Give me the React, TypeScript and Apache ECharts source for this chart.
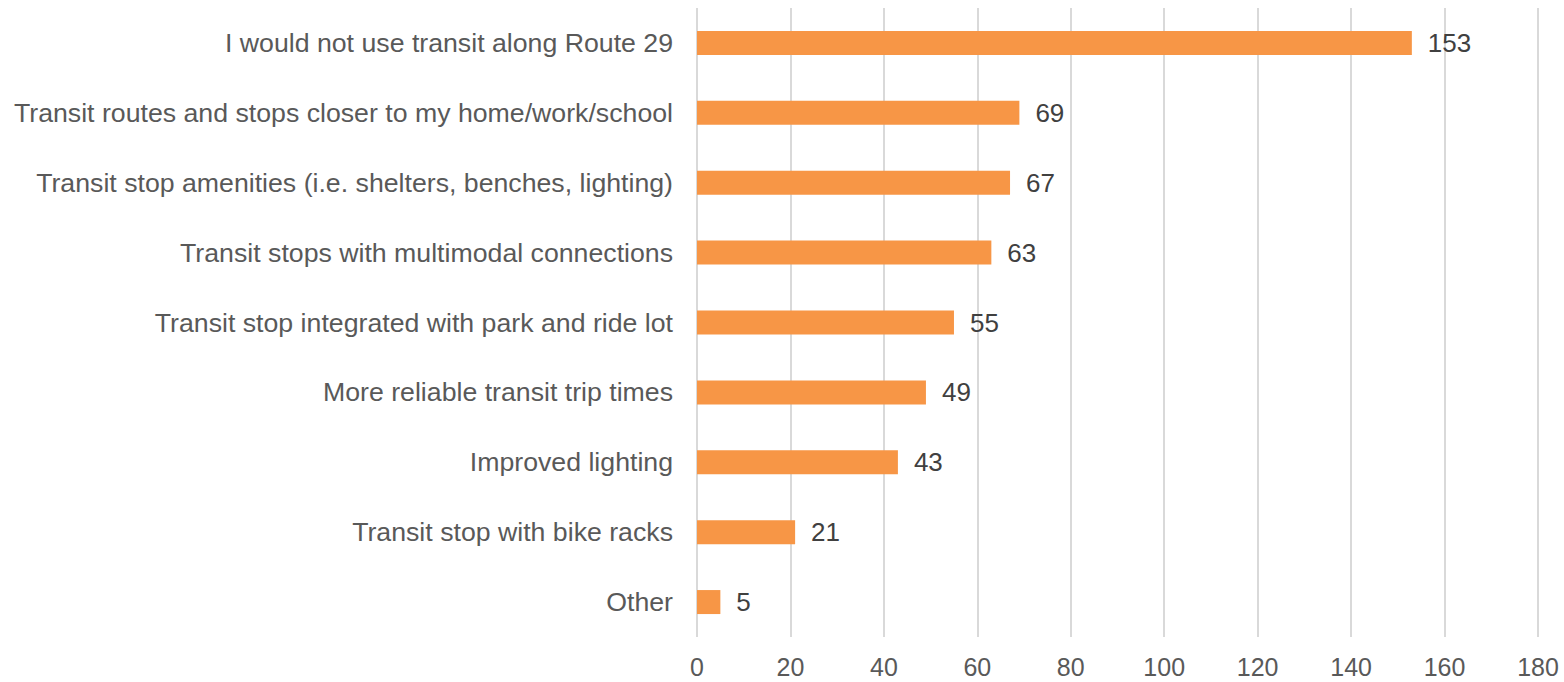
import React, { useEffect, useRef } from "react";
import * as echarts from "echarts";

const categories = [
  "I would not use transit along Route 29",
  "Transit routes and stops closer to my home/work/school",
  "Transit stop amenities (i.e. shelters, benches, lighting)",
  "Transit stops with multimodal connections",
  "Transit stop integrated with park and ride lot",
  "More reliable transit trip times",
  "Improved lighting",
  "Transit stop with bike racks",
  "Other",
];
const values = [153, 69, 67, 63, 55, 49, 43, 21, 5];

export default function App() {
  const ref = useRef<HTMLDivElement>(null);
  useEffect(() => {
    if (!ref.current) return;
    const chart = echarts.init(ref.current, null, { renderer: "svg" });
    chart.setOption({
      animation: false,
      grid: { left: 697, right: 26, top: 8, bottom: 45, containLabel: false },
      xAxis: {
        type: "value",
        min: 0,
        max: 180,
        interval: 20,
        axisLine: { show: false },
        axisTick: { show: false },
        splitLine: { show: true, lineStyle: { color: "#D9D9D9", width: 2 } },
        axisLabel: {
          color: "#595959",
          fontSize: 25,
          fontFamily: "Liberation Sans, Arial, sans-serif",
          margin: 17,
        },
      },
      yAxis: {
        type: "category",
        data: categories,
        inverse: true,
        axisLine: { show: false },
        axisTick: { show: false },
        splitLine: { show: false },
        axisLabel: {
          color: "#595959",
          fontSize: 26.7,
          fontFamily: "Liberation Sans, Arial, sans-serif",
          margin: 24,
        },
      },
      series: [
        {
          type: "bar",
          data: values,
          barWidth: 24,
          itemStyle: { color: "#F79646" },
          label: {
            show: true,
            position: "right",
            distance: 16,
            color: "#404040",
            fontSize: 26,
            fontFamily: "Liberation Sans, Arial, sans-serif",
          },
        },
      ],
    });
    return () => chart.dispose();
  }, []);
  return (
    <div
      ref={ref}
      style={{ position: "fixed", left: 0, top: 0, width: 1564, height: 682, background: "#fff" }}
    />
  );
}
